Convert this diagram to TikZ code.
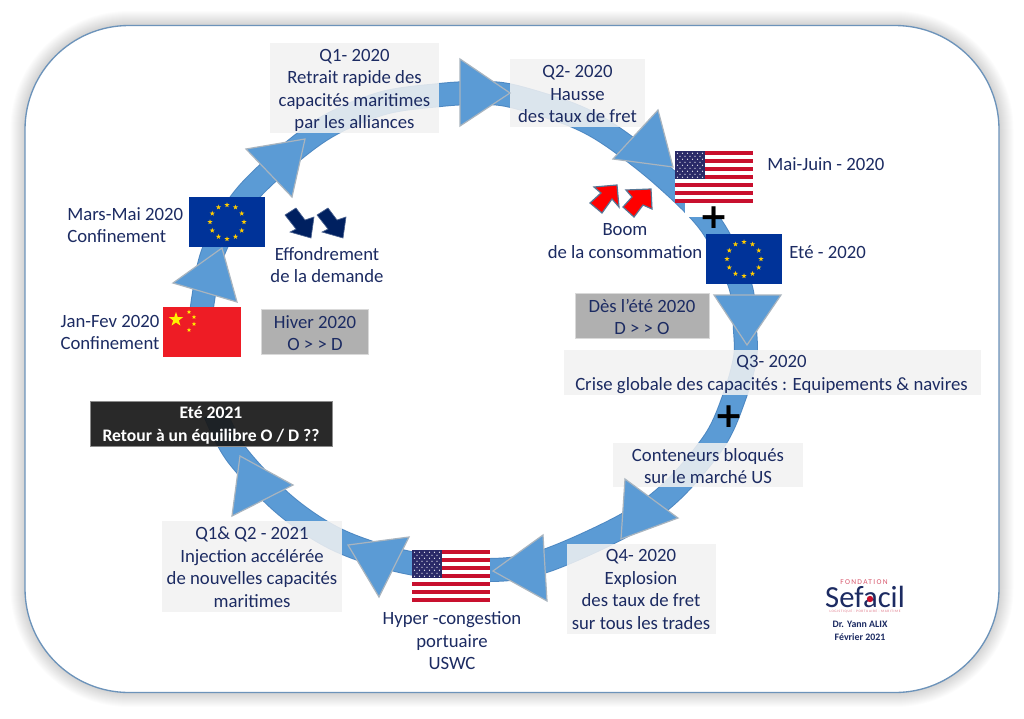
\documentclass[tikz,border=0pt]{standalone}
\usepackage{fontspec}
\setmainfont{Carlito}
\newfontfamily\spaced[LetterSpace=18]{Carlito}
\newfontfamily\heavyplus{DejaVu Sans}
\usetikzlibrary{calc}
\definecolor{ink}{HTML}{1C2B62}
\definecolor{ringblue}{HTML}{5B9BD5}
\definecolor{ringedge}{HTML}{4E88C2}
\definecolor{triedge}{HTML}{A9B4BE}
\definecolor{framecol}{HTML}{6C93BA}
\definecolor{flagred}{HTML}{C8102E}
\definecolor{flagblue}{HTML}{2A2A68}
\definecolor{eublue}{HTML}{003399}
\definecolor{eustar}{HTML}{FFCC00}
\definecolor{cnred}{HTML}{EE1C25}
\definecolor{navyarrow}{HTML}{002060}
\def\px{0.75pt}
\tikzset{
  txt/.style={font=\fontsize{14.05}{16.9}\selectfont,text=ink,align=center,inner sep=0pt},
  lbox/.style={fill=gray!10,fill opacity=.85,inner sep=0pt},
  gbox/.style={fill=black!31,draw=black!15,line width=0.7pt,inner sep=0pt},
  dbox/.style={fill=black!90,fill opacity=.93,draw=black!45,line width=0.6pt,inner sep=0pt},
  tri/.style={fill=ringblue,draw=triedge,line width=0.9pt,line join=miter},
  band/.style={line cap=butt,line join=round},
}
\newcommand\fivestar[3]{\fill[shift={(#1,#2)}] (-90:#3) -- (-54:#3*.4) -- (-18:#3) -- (18:#3*.4) -- (54:#3) -- (90:#3*.4) -- (126:#3) -- (162:#3*.4) -- (198:#3) -- (234:#3*.4) -- cycle;}
\newcommand\flagUS[2]{\begin{scope}[shift={(#1,#2)}]
  \fill[white] (0,0) rectangle (78,52);
  \foreach \k in {0,...,6}{\fill[flagred] (0,{8*\k}) rectangle (78,{8*\k+4});}
  \fill[flagblue] (0,0) rectangle (30,28);
  \foreach \r in {0,...,8}{
    \pgfmathsetmacro\yy{2.2+\r*3}
    \pgfmathtruncatemacro\odd{mod(\r,2)}
    \ifnum\odd=0
      \foreach \c in {0,...,5}{\fill[white] ({2.5+\c*5},\yy) circle (0.62);}
    \else
      \foreach \c in {0,...,4}{\fill[white] ({5+\c*5},\yy) circle (0.62);}
    \fi
  }
\end{scope}}
\newcommand\flagEU[2]{\begin{scope}[shift={(#1,#2)}]
  \fill[eublue] (0,0) rectangle (76,50);
  \begin{scope}[shift={(38,25)},eustar]
  \foreach \i in {0,...,11}{
    \pgfmathsetmacro\sx{17*cos(30*\i)}
    \pgfmathsetmacro\sy{17*sin(30*\i)}
    \fivestar{\sx}{\sy}{2.7}
  }
  \end{scope}
\end{scope}}
\newcommand\navyshape[1]{\begin{scope}[shift={(#1,0)}]
  \fill[navyarrow,draw=navyarrow!70,line width=0.5pt,line join=miter] (285,215) -- (296,208) -- (305,220) -- (314,217) -- (311,238) -- (290,232) -- (296,229) -- cycle;
\end{scope}}
\begin{document}
\begin{tikzpicture}[x=0.75pt,y=-0.75pt]
\useasboundingbox (0,0) rectangle (1024,718);
\fill[white] (0,0) rectangle (1024,718);
% frame shadow
\foreach \w in {3,5,...,29}{
  \draw[black,opacity=0.013,line width=\w*\px,rounded corners=78pt] (25,25.5) rectangle (999,692.5);
}
\node[fill=white,draw=framecol,line width=1pt,rounded corners=78pt,minimum width=974*\px,minimum height=667*\px,inner sep=0pt] (frame) at (512,359) {};
% ring
\def\ringpts{(199,342) (203,300) (214,250) (248,193) (317,133) (380,104) (440,95) (480,93) (512,96) (570,114) (610,135) (663,176) (711,225) (740,285) (745,330) (745,358) (735,395) (715,440) (672,491) (625,525) (545,561) (490,570) (410,563) (340,541) (286,506) (237,455) (215,413)}
\draw[ringedge,line width=24*\px,band] plot[smooth,tension=0.55] coordinates {\ringpts};
\draw[ringblue,line width=22*\px,band] plot[smooth,tension=0.55] coordinates {\ringpts};
\fill[white] (685,203) rectangle (735,216.5);
% boxes
\node[lbox,minimum width=169*\px,minimum height=90*\px] (q1) at (354.5,88) {};
\node[lbox,minimum width=135*\px,minimum height=68*\px] (q2) at (577.5,93) {};
\node[lbox,minimum width=417*\px,minimum height=45*\px] (q3) at (772.5,372.5) {};
\node[lbox,minimum width=190*\px,minimum height=44*\px] (cont) at (708,465) {};
\node[lbox,minimum width=149*\px,minimum height=90*\px] (q4) at (641.5,589) {};
\node[lbox,minimum width=180*\px,minimum height=91*\px] (q12) at (252,566.5) {};
\node[dbox,minimum width=242*\px,minimum height=45*\px] (ete21) at (211,423.5) {};
\node[gbox,minimum width=107*\px,minimum height=45*\px] (hiver) at (314.5,331.5) {};
\node[gbox,minimum width=134*\px,minimum height=45*\px] (des) at (642,315.5) {};
% triangles
\draw[tri] (222,248) -- (173,283) -- (237,302) -- cycle;
\draw[tri] (305,139) -- (246,149) -- (292,197) -- cycle;
\draw[tri] (460,59) -- (460,126) -- (510,93) -- cycle;
\draw[tri] (658,110) -- (613,159) -- (673,167) -- cycle;
\draw[tri] (714,295) -- (781,295) -- (747,345) -- cycle;
\draw[tri] (625,479) -- (621,539) -- (678,518) -- cycle;
\draw[tri] (543,535) -- (547,601) -- (493,571) -- cycle;
\draw[tri] (409,537) -- (348,545) -- (379,597) -- cycle;
\draw[tri] (240,456) -- (293,485) -- (232,516) -- cycle;
% flags
\begin{scope}[shift={(163,307)}]
  \fill[cnred] (0,0) rectangle (78,50);
  \begin{scope}[yellow]
  \fivestar{13}{12.5}{7.5}
  \fivestar{26}{5}{2.3}
  \fivestar{31}{10}{2.3}
  \fivestar{31}{17}{2.3}
  \fivestar{26}{23}{2.3}
  \end{scope}
\end{scope}
\flagEU{189}{197}
\flagEU{706}{234}
\flagUS{675}{151}
\flagUS{412}{550}
% block arrows
\navyshape{0}
\navyshape{32}
\fill[red,draw=framecol!80!black,line width=0.9pt,line join=miter] (617,185) -- (594,187) -- (601,193) -- (590,203) -- (602,213) -- (612,199) -- (619,207) -- cycle;
\fill[red,draw=framecol!80!black,line width=0.9pt,line join=miter] (651,189) -- (626,190) -- (632,197) -- (623,207) -- (634,217) -- (643,205) -- (652,209) -- cycle;
% plus signs
\node[inner sep=0pt,text=black,font=\fontsize{26}{26}\selectfont\bfseries\heavyplus] (plusa) at (714,217.5) {+};
\node[inner sep=0pt,text=black,font=\fontsize{26}{26}\selectfont\bfseries\heavyplus] (plusb) at (729,416.5) {+};
% box texts
\node[txt] (q1t) at (354.5,90.5) {Q1- 2020\\Retrait rapide des\\capacités maritimes\\par les alliances};
\node[txt] (q2t) at (577.5,94) {Q2- 2020\\Hausse\\des taux de fret};
\node[txt] (q3t) at (771.5,374.5) {Q3- 2020\\Crise globale des capacités : Equipements \& navires};
\node[txt] (contt) at (708,466) {Conteneurs bloqués\\sur le marché US};
\node[txt] (q4t) at (641,589.5) {Q4- 2020\\Explosion\\des taux de fret\\sur tous les trades};
\node[txt] (q12t) at (252,567) {Q1\& Q2 - 2021\\Injection accélérée\\de nouvelles capacités\\maritimes};
\node[txt,text=white,font=\fontsize{13.2}{16.9}\selectfont\bfseries] (ete21t) at (211,425.5) {Eté 2021\\Retour à un équilibre O / D ??};
\node[txt] (hivert) at (315,333) {Hiver 2020\\O > > D};
\node[txt] (dest) at (642,317) {Dès l’été 2020\\D > > O};
% plain labels
\node[txt,align=left,anchor=west] (mars) at (67,225) {Mars-Mai 2020\\Confinement};
\node[txt] (jan) at (110,332.5) {Jan-Fev 2020\\Confinement};
\node[txt] (eff) at (327,265) {Effondrement\\de la demande};
\node[txt,anchor=west] (mai) at (767,164) {Mai-Juin - 2020};
\node[txt] (boom) at (625,241) {Boom\\de la consommation};
\node[txt,anchor=west] (ete) at (789,252) {Eté - 2020};
\node[txt] (hyper) at (452,641) {Hyper -congestion\\portuaire\\USWC};
% logo
\node[inner sep=0pt,text=flagred!70,font=\fontsize{5.6}{5.6}\selectfont\spaced] (fond) at (864,582.5) {FONDATION};
\node[inner sep=0pt,text=ink,font=\fontsize{23}{23}\selectfont] (sef) at (865,597) {Sefacil};
\fill[flagred] (870,599) circle (3.2);
\node[inner sep=0pt,text=flagred!60,font=\fontsize{2.6}{3}\selectfont\spaced] (log) at (865,612) {LOGISTIQUE - PORTUAIRE - MARITIME};
\node[inner sep=0pt,text=ink,align=center,font=\fontsize{7.4}{9.6}\selectfont\bfseries] (yann) at (860,631) {Dr. Yann ALIX\\Février 2021};
\end{tikzpicture}
\end{document}
